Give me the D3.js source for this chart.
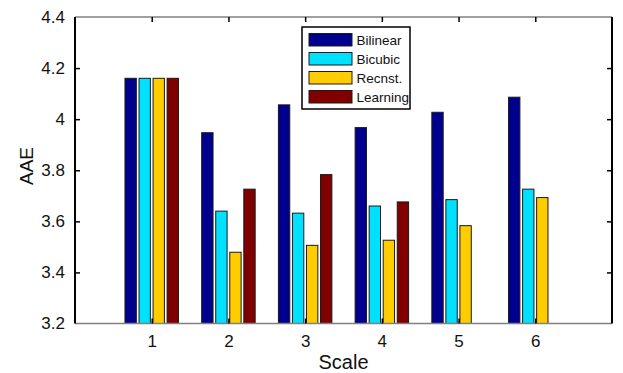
<!DOCTYPE html>
<html>
<head>
<meta charset="utf-8">
<script src="https://cdn.jsdelivr.net/npm/d3@7"></script>
<style>
  body { margin: 0; background: #fff; }
  text { font-family: "Liberation Sans", Arial, sans-serif; fill: #111; }
</style>
</head>
<body>
<svg id="chart"></svg>
<script>
const width = 623;
const height = 373;

const scales = [1, 2, 3, 4, 5, 6];
const methods = ['Bilinear', 'Bicubic', 'Recnst.', 'Learning'];
const colors = ['#00008f', '#00e0ff', '#ffcc00', '#800000'];

const bilinear = [4.16, 3.947, 4.056, 3.967, 4.027, 4.086];
const bicubic  = [4.16, 3.640, 3.632, 3.660, 3.685, 3.726];
const recnst   = [4.16, 3.479, 3.506, 3.526, 3.583, 3.693];
const learning = [4.16, 3.726, 3.783, 3.676, null, null];

const yTicks = [3.2, 3.4, 3.6, 3.8, 4, 4.2, 4.4];

const series = [bilinear, bicubic, recnst, learning];

const plotL = 75, plotR = 612, plotT = 17, plotB = 323.5;

const svg = d3.select('#chart')
  .attr('width', width)
  .attr('height', height);

const x = d3.scaleLinear().domain([0, 7]).range([plotL, plotR]);
const y = d3.scaleLinear().domain([3.2, 4.4]).range([plotB, plotT]);

// bar layout in data units
const step = 0.183;
const barW = 0.148;

const bars = [];
series.forEach((vals, m) => {
  vals.forEach((v, i) => {
    if (v == null) return;
    bars.push({ m: m, s: scales[i], v: v });
  });
});

svg.append('g').selectAll('rect')
  .data(bars).enter()
  .append('rect')
  .attr('x', d => x(d.s + (d.m - 1.5) * step - barW / 2))
  .attr('width', d => x(barW) - x(0))
  .attr('y', d => y(d.v))
  .attr('height', d => y(3.2) - y(d.v))
  .attr('fill', d => colors[d.m])
  .attr('stroke', '#1a1a1a')
  .attr('stroke-width', 1);

// frame: gray top and bottom, black sides
svg.append('line').attr('x1', plotL).attr('x2', plotR).attr('y1', plotT).attr('y2', plotT)
  .attr('stroke', '#808080').attr('stroke-width', 1.5);
svg.append('line').attr('x1', plotL).attr('x2', plotR).attr('y1', plotB).attr('y2', plotB)
  .attr('stroke', '#808080').attr('stroke-width', 1.5);

const yAxisL = svg.append('g').attr('transform', `translate(${plotL},0)`)
  .call(d3.axisLeft(y).tickValues(yTicks).tickSize(-5).tickPadding(10).tickFormat(d3.format('')));
const yAxisR = svg.append('g').attr('transform', `translate(${plotR},0)`)
  .call(d3.axisRight(y).tickValues(yTicks).tickSize(-5).tickFormat(''));
const xAxisB = svg.append('g').attr('transform', `translate(0,${plotB})`)
  .call(d3.axisBottom(x).tickValues(scales).tickSize(-5).tickPadding(11).tickFormat(d3.format('d')));
const xAxisT = svg.append('g').attr('transform', `translate(0,${plotT})`)
  .call(d3.axisTop(x).tickValues(scales).tickSize(-5).tickFormat(''));

[yAxisL, yAxisR].forEach(a => {
  a.select('.domain').attr('stroke', '#000').attr('stroke-width', 2).attr('d', `M0,${plotT}V${plotB}`);
});
[xAxisB, xAxisT].forEach(a => a.select('.domain').remove());
[yAxisL, yAxisR, xAxisB, xAxisT].forEach(a => {
  a.selectAll('.tick line').attr('stroke', '#000').attr('stroke-width', 1.5);
  a.selectAll('.tick text').style('font-size', '17px').attr('fill', '#111')
    .style('font-family', '"Liberation Sans", Arial, sans-serif');
});
// hide tick marks at the corners
yAxisL.selectAll('.tick line').filter(d => d === 3.2 || d === 4.4).remove();
yAxisR.selectAll('.tick line').filter(d => d === 3.2 || d === 4.4).remove();

// axis titles
svg.append('text')
  .attr('x', x(3.5)).attr('y', 369)
  .attr('text-anchor', 'middle')
  .style('font-size', '20px')
  .text('Scale');

svg.append('text')
  .attr('transform', `translate(33,166) rotate(-90)`)
  .attr('text-anchor', 'middle')
  .style('font-size', '19px')
  .text('AAE');

// legend
const legend = svg.append('g').attr('transform', 'translate(302,27)');
legend.append('rect')
  .attr('width', 108).attr('height', 82)
  .attr('fill', '#fff').attr('stroke', '#000').attr('stroke-width', 1.5);
methods.forEach((name, i) => {
  const g = legend.append('g').attr('transform', `translate(7,${6.5 + i * 19})`);
  g.append('rect').attr('width', 43).attr('height', 12.5)
    .attr('fill', colors[i]).attr('stroke', '#1a1a1a').attr('stroke-width', 1);
  g.append('text').attr('x', 47.5).attr('y', 11.5)
    .style('font-size', '13.5px')
    .text(name);
});
</script>
</body>
</html>
